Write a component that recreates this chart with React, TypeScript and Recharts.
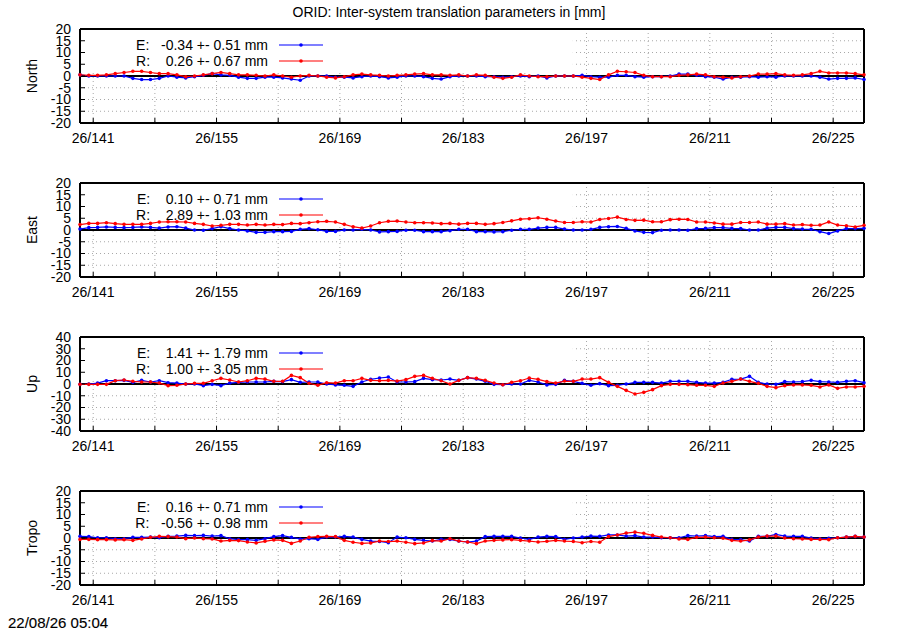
import { LineChart, Line, XAxis, YAxis, ReferenceLine, ReferenceArea, CartesianGrid } from 'recharts';

const FONT = '"Liberation Sans", Arial, Helvetica, sans-serif';

// daily solutions, first one at noon of day 139
const FIRST_DAY = 139.5;
const LAST_DAY = 228.5;
// right edge of the opaque key box (grid is hidden under it)
const KEY_EDGE_DAY = 195.45;

const DAY_TICKS = [141, 148, 155, 162, 169, 176, 183, 190, 197, 204, 211, 218, 225];
const LABELLED_DAYS = [141, 155, 169, 183, 197, 211, 225];

const NORTH_E = [
    0.5, 0, 0, 0, 0, 0, -1.0, -1.5, -1.5, -1.0, 0, -0.5, -0.8, -0.3, 0.3, 1.0, 0.5, 0.3, -0.5, -1.0,
    -1.0, -0.5, -0.5, -0.8, -1.3, -1.8, 0, 0, 0, -0.5, -0.5, -0.8, -0.3, 0, -0.3, -0.8, -0.5, 0, 0, -0.3,
    -1.0, -1.3, -0.3, 0, 0, 0, -0.3, -0.3, -0.5, -0.3, 0, -0.3, 0, -0.8, 0, 0, 0, 0.3, -0.3, -0.5,
    -0.5, 0.3, 0.3, -0.3, -0.5, -0.3, -0.3, 0, 0.8, 0.8, 0.3, -0.3, -0.5, -1.3, -0.5, -0.5, -0.3, -0.5, -0.3, -0.5,
    0, 0, 0, 0, -0.5, -1.3, -1.0, -1.0, -0.8, -1.5,
];
const NORTH_R = [
    0.5, 0.3, 0.3, 0.5, 1.0, 1.5, 2.0, 2.0, 1.5, 1.0, 1.0, 0.5, -0.3, 0, 0.5, 1.0, 1.5, 1.0, 0.5, 0.5,
    0.3, 0, 0.5, 0, -0.5, 0, 0.3, 0, -0.5, -0.8, -0.3, 0.5, 0.8, 0.5, 0.3, 0, 0.3, 0.5, 0.8, 1.0,
    0.5, 0.5, 0.3, 0.5, 0, 0.5, 0.3, -0.5, -1.0, -0.5, 0.5, 0, -0.3, -0.3, 0, 0, 0, -0.5, -1.0, -1.5,
    0.5, 2.0, 1.8, 1.5, 0.3, -0.3, -0.3, -0.3, 0.3, 0.5, 0.8, 0.5, -0.3, -0.5, -0.8, -0.3, 0, 0.8, 0.8, 1.0,
    0.5, 0.3, 0.5, 1.0, 2.0, 1.3, 1.3, 1.3, 1.0, 0.5,
];

const EAST_E = [
    0.4, 1.0, 1.1, 1.3, 1.1, 1.0, 1.1, 1.3, 1.1, 0.8, 1.3, 1.4, 0.8, 0, -0.1, 0.6, 1.4, 0.6, 0, -0.4,
    -1.0, -1.0, -0.7, -0.7, -0.6, 0.3, 0.6, 0.1, -0.6, -0.6, 0, 0, 0.3, 0, -0.8, -0.7, -0.6, -0.1, -0.1, -0.7,
    -0.7, -0.7, -0.3, 0.3, 0.3, -0.7, -0.7, -0.8, -0.7, -0.1, 0.3, 0.3, 0.8, 1.1, 1.1, 0.4, 0, 0, 0.3, 1.1,
    1.4, 1.5, 0.7, -0.4, -1.0, -1.1, -0.1, 0, 0, -0.1, 0.6, 0.7, 1.0, 1.0, 0.7, 0.6, 0, 0, 0.8, 1.1,
    1.1, 0.6, 0.4, 0.3, -0.7, -1.5, -0.4, 0.6, 0.6, 0.7,
];
const EAST_R = [
    2.3, 2.8, 2.8, 3.1, 2.7, 2.4, 2.4, 2.4, 2.8, 3.4, 3.5, 3.5, 3.4, 2.8, 2.4, 1.7, 2.0, 2.4, 2.4, 2.1,
    2.4, 2.1, 2.4, 2.3, 2.8, 2.7, 3.1, 3.5, 3.7, 3.4, 2.4, 1.4, 0.8, 1.7, 3.1, 3.7, 3.8, 3.4, 3.1, 3.1,
    3.0, 2.7, 2.8, 2.5, 2.8, 2.8, 2.4, 2.7, 3.2, 3.9, 4.6, 4.8, 5.2, 4.6, 3.8, 3.2, 3.2, 3.5, 3.4, 4.5,
    4.9, 5.5, 4.5, 4.1, 4.2, 3.5, 3.5, 4.4, 4.6, 4.5, 3.4, 3.4, 3.0, 2.5, 2.5, 3.2, 3.2, 3.4, 2.5, 2.5,
    2.7, 2.1, 2.3, 2.0, 2.1, 3.4, 2.1, 1.8, 1.3, 2.0,
];

const UP_E = [
    -0.3, 0, 0.8, 2.8, 2.8, 3.1, 1.4, 3.1, 1.7, 2.8, 1.1, 0.8, 0, 0, -1.4, -0.3, -1.4, 0.8, 1.4, 1.7,
    1.7, 1.7, 2.3, 2.0, 3.7, 1.4, 1.7, 1.7, 0, -0.8, -1.1, -2.0, 1.7, 4.0, 5.1, 5.9, 1.7, 1.7, 2.0, 4.8,
    3.7, 3.4, 4.2, 3.1, 5.4, 4.2, 2.3, -0.3, -0.6, 0, 0, 3.1, 1.7, -0.8, -0.3, 3.1, 2.3, 0.6, -1.1, 0.3,
    -1.4, -1.1, 0, 1.4, 1.4, 1.4, 0.8, 2.3, 2.3, 2.3, 1.4, 0.8, 0.8, 1.4, 4.0, 4.2, 6.5, 1.4, 0, -0.3,
    2.0, 1.7, 2.0, 3.1, 2.0, 1.7, 1.4, 2.3, 2.8, 1.1,
];
const UP_R = [
    -0.3, -0.3, -0.3, -0.3, 2.8, 3.4, 2.3, 1.7, 1.7, 0.8, -1.4, -1.1, 0, 0.6, 0.6, 2.8, 4.8, 3.4, 1.7, 2.8,
    4.8, 4.2, 2.3, 2.3, 7.3, 5.4, 0.6, -1.1, 1.1, 0.8, 2.8, 2.8, 4.8, 3.1, 2.8, 3.1, 2.5, 3.7, 6.5, 7.3,
    4.8, 2.8, 0, 3.1, 5.4, 4.8, 3.1, 0.8, -0.6, 1.4, 2.8, 5.1, 4.0, 2.0, 0.8, 2.5, 2.3, 4.2, 4.2, 5.4,
    1.4, -2.0, -5.4, -8.5, -7.1, -4.8, -1.4, -0.3, -0.3, -0.6, -1.1, -1.1, -2.0, 0.8, 2.3, 4.2, 2.3, 0.6, -2.0, -3.1,
    -1.4, -0.8, -0.8, -1.1, -2.5, -0.8, -3.7, -2.5, -2.5, -2.0,
];

const TROPO_E = [
    0.7, 0.6, 0.1, 0.1, -0.3, -0.3, 0.3, 0.3, 0.4, 0.1, 0.7, 0.8, 1.1, 1.0, 1.1, 0.8, 1.0, -0.3, -0.7, -0.7,
    -1.0, -0.3, 0.6, 1.0, 0.3, -0.4, -0.3, -0.6, 0.4, 0.4, 0.7, 0.4, -0.6, -1.3, -1.5, -2.0, 0.4, 0.1, -0.6, -1.0,
    -1.3, -0.6, -0.6, -1.3, -1.7, -1.3, 0.6, 0.7, 0.7, 0.7, 0, -0.6, 0.4, 0.7, 0.6, -0.6, 0, 0.4, 0.8, 0.7,
    1.3, 1.3, 0.8, 1.0, 0.4, 0.4, 0.1, 0.1, 0.1, 1.0, 0.8, 1.0, 0.6, 0.7, -0.6, -0.7, -1.3, 0.7, 0.7, 1.5,
    0.8, 0.7, 0.7, 0, -0.3, -0.1, 0.1, 0.4, 0.7, 0.4,
];
const TROPO_R = [
    -0.6, -0.6, -0.7, -0.7, -0.8, -0.7, -1.0, -0.4, 0.3, 0.7, 0.6, 0.4, -0.3, 0, -0.3, -0.4, -1.3, -1.0, -1.1, -1.7,
    -2.1, -1.4, -0.8, -1.0, -2.3, -1.3, 0.3, 0.6, 0.7, 0.6, -1.0, -1.8, -2.3, -2.1, -1.3, -1.5, -1.3, -1.8, -2.4, -2.1,
    -1.1, -1.3, -0.3, -1.3, -1.7, -2.4, -1.3, -1.0, -0.8, -0.7, -1.0, -1.3, -1.7, -1.4, -1.0, -1.3, -1.5, -2.0, -1.5, -1.8,
    0.6, 1.3, 2.1, 2.5, 2.0, 1.1, 0.4, 0.1, -0.4, -0.6, 0.3, 0.4, 0.1, -0.1, -1.0, -1.3, -0.8, 0.4, 0.8, 0.8,
    0, -0.3, -0.4, -0.6, -0.6, -0.7, 0.1, 0.4, 0.7, 0.4,
];

const TICKS_20 = [-20, -15, -10, -5, 0, 5, 10, 15, 20];
const TICKS_40 = [-40, -30, -20, -10, 0, 10, 20, 30, 40];

const PANELS = [
    { name: 'North', e: NORTH_E, r: NORTH_R, eText: 'E:   -0.34 +- 0.51 mm', rText: 'R:    0.26 +- 0.67 mm', ticks: TICKS_20, plotTop: 29 },
    { name: 'East', e: EAST_E, r: EAST_R, eText: 'E:    0.10 +- 0.71 mm', rText: 'R:    2.89 +- 1.03 mm', ticks: TICKS_20, plotTop: 183 },
    { name: 'Up', e: UP_E, r: UP_R, eText: 'E:    1.41 +- 1.79 mm', rText: 'R:    1.00 +- 3.05 mm', ticks: TICKS_40, plotTop: 337 },
    { name: 'Tropo', e: TROPO_E, r: TROPO_R, eText: 'E:    0.16 +- 0.71 mm', rText: 'R:   -0.56 +- 0.98 mm', ticks: TICKS_20, plotTop: 491 },
];

const BLUE = '#0000ff';
const RED = '#ff0000';
const GRID = '#a8a8a8';
const CHART_H = 150;
const TOP_AXIS_H = 10;
const PLOT_H = 94;

function Panel({ e, r, ticks, plotTop }: { e: number[]; r: number[]; ticks: number[]; plotTop: number }) {
    const data = e.map((v, i) => ({ day: FIRST_DAY + i, e: v, r: r[i] }));
    const yMax = ticks[ticks.length - 1];
    const tickFont = { fill: '#000', fontSize: 14, fontFamily: FONT };

    return (
        <div style={{ position: 'absolute', left: 0, top: plotTop - TOP_AXIS_H, width: 900, height: CHART_H }}>
            <LineChart width={900} height={CHART_H} data={data} margin={{ top: 0, right: 0, bottom: 0, left: 0 }}>
                <CartesianGrid xAxisId="b" yAxisId="l" stroke={GRID} strokeDasharray="1 3" />
                <XAxis
                    xAxisId="b"
                    dataKey="day"
                    type="number"
                    domain={[FIRST_DAY, LAST_DAY]}
                    ticks={DAY_TICKS}
                    interval={0}
                    height={CHART_H - TOP_AXIS_H - PLOT_H}
                    tickSize={-5}
                    tickMargin={15}
                    tickFormatter={(d: number) => (LABELLED_DAYS.includes(d) ? `26/${d}` : '')}
                    tick={tickFont}
                    tickLine={{ stroke: '#000' }}
                    axisLine={{ stroke: '#000', strokeWidth: 2 }}
                />
                <XAxis
                    xAxisId="t"
                    orientation="top"
                    dataKey="day"
                    type="number"
                    domain={[FIRST_DAY, LAST_DAY]}
                    ticks={DAY_TICKS}
                    interval={0}
                    height={TOP_AXIS_H}
                    tickSize={-5}
                    tick={false}
                    tickLine={{ stroke: '#000' }}
                    axisLine={{ stroke: '#000', strokeWidth: 2 }}
                />
                <YAxis
                    yAxisId="l"
                    type="number"
                    domain={[-yMax, yMax]}
                    ticks={ticks}
                    interval={0}
                    width={80}
                    tickSize={-5}
                    tickMargin={14}
                    tick={tickFont}
                    tickLine={{ stroke: '#000' }}
                    axisLine={{ stroke: '#000', strokeWidth: 2 }}
                />
                <YAxis
                    yAxisId="r"
                    orientation="right"
                    type="number"
                    domain={[-yMax, yMax]}
                    ticks={ticks}
                    interval={0}
                    width={36}
                    tickSize={-5}
                    tick={false}
                    tickLine={{ stroke: '#000' }}
                    axisLine={{ stroke: '#000', strokeWidth: 2 }}
                />

                {/* opaque key box hides the grid in the upper left */}
                <ReferenceArea
                    xAxisId="b"
                    yAxisId="l"
                    x1={FIRST_DAY}
                    x2={KEY_EDGE_DAY}
                    y1={yMax / 10}
                    y2={yMax}
                    fill="#fff"
                    fillOpacity={1}
                    stroke="none"
                    ifOverflow="visible"
                />
                <ReferenceLine xAxisId="b" yAxisId="l" y={0} stroke="#000" strokeWidth={2} />

                <Line
                    xAxisId="b"
                    yAxisId="l"
                    dataKey="e"
                    stroke={BLUE}
                    strokeWidth={1.2}
                    dot={{ r: 1.8, fill: BLUE, stroke: BLUE, strokeWidth: 0 }}
                    activeDot={false}
                    isAnimationActive={false}
                />
                <Line
                    xAxisId="b"
                    yAxisId="l"
                    dataKey="r"
                    stroke={RED}
                    strokeWidth={1.2}
                    dot={{ r: 1.8, fill: RED, stroke: RED, strokeWidth: 0 }}
                    activeDot={false}
                    isAnimationActive={false}
                />
            </LineChart>
        </div>
    );
}

function Key({ text, y, color }: { text: string; y: number; color: string }) {
    return (
        <g>
            <text x={268} y={y + 5} textAnchor="end" style={{ whiteSpace: 'pre' }}>
                {text}
            </text>
            <line x1={279} x2={323} y1={y} y2={y} stroke={color} strokeWidth={1.2} />
            <circle cx={301} cy={y} r={1.8} fill={color} />
        </g>
    );
}

export default function App() {
    return (
        <div style={{ position: 'absolute', left: 0, top: 0, width: 900, height: 630, background: '#fff', overflow: 'hidden' }}>
            {PANELS.map((p) => (
                <Panel key={p.name} e={p.e} r={p.r} ticks={p.ticks} plotTop={p.plotTop} />
            ))}
            <svg
                width={900}
                height={630}
                style={{ position: 'absolute', left: 0, top: 0, pointerEvents: 'none' }}
                fontFamily={FONT}
                fontSize={14}
                fill="#000"
            >
                <text x={449} y={17} textAnchor="middle">
                    ORID: Inter-system translation parameters in [mm]
                </text>
                {PANELS.map((p) => {
                    const cy = p.plotTop + PLOT_H / 2;
                    return (
                        <g key={p.name}>
                            <text x={32} y={cy} textAnchor="middle" dominantBaseline="central" transform={`rotate(-90 32 ${cy})`}>
                                {p.name}
                            </text>
                            <Key text={p.eText} y={p.plotTop + 16} color={BLUE} />
                            <Key text={p.rText} y={p.plotTop + 32} color={RED} />
                        </g>
                    );
                })}
                <text x={8} y={628} fontSize={15} stroke="#000" strokeWidth={0.15}>
                    22/08/26 05:04
                </text>
            </svg>
        </div>
    );
}
